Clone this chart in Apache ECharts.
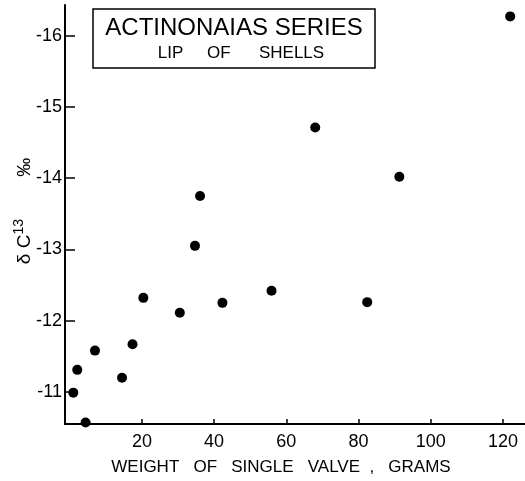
<!DOCTYPE html>
<html><head><meta charset="utf-8">
<script src="https://cdn.jsdelivr.net/npm/echarts@6/dist/echarts.min.js"></script>
<style>html,body{margin:0;padding:0;background:#fff}#c{width:525px;height:481px}</style>
</head><body><div id="c"></div>
<script>
const weights = [122, 68, 91.3, 36.1, 34.7, 20.4, 30.5, 42.3, 55.9, 82.4, 17.4, 7.0, 2.1, 14.5, 1.0, 4.4];
const delta13C = [-16.27, -14.71, -14.02, -13.75, -13.05, -12.32, -12.11, -12.25, -12.42, -12.26, -11.67, -11.58, -11.31, -11.20, -10.99, -10.57];
const xTicks = [20, 40, 60, 80, 100, 120];
const yTicks = [-16, -15, -14, -13, -12, -11];
const titleLine1 = 'ACTINONAIAS SERIES';
const titleLine2 = 'LIP     OF      SHELLS';
const xName = 'WEIGHT   OF   SINGLE   VALVE  ,   GRAMS';

const FONT = 'Liberation Sans';
const chart = echarts.init(document.getElementById('c'), null, {renderer: 'canvas'});
chart.setOption({
  animation: false,
  backgroundColor: '#fff',
  grid: {left: 65, right: 0, top: 5, bottom: 48, containLabel: false},
  xAxis: {
    type: 'value', min: -1.3, max: 126.1,
    axisLine: {show: true, onZero: false, lineStyle: {color: '#000', width: 2}},
    axisTick: {show: true, inside: true, length: 5, customValues: xTicks, lineStyle: {color: '#000', width: 1.5}},
    axisLabel: {customValues: xTicks, color: '#000', fontFamily: FONT, fontSize: 18, margin: 9},
    splitLine: {show: false},
    name: xName, nameLocation: 'middle', nameGap: 35,
    nameTextStyle: {color: '#000', fontFamily: FONT, fontSize: 17, padding: [0, 28, 0, 0]}
  },
  yAxis: {
    type: 'value', inverse: true, min: -16.43, max: -10.55,
    axisLine: {show: true, onZero: false, lineStyle: {color: '#000', width: 2}},
    axisTick: {show: true, inside: true, length: 10, customValues: yTicks, lineStyle: {color: '#000', width: 1.5}},
    axisLabel: {customValues: yTicks, color: '#000', fontFamily: FONT, fontSize: 18, margin: 3},
    splitLine: {show: false}
  },
  graphic: [
    {type: 'rect', shape: {x: 93, y: 9, width: 282, height: 59}, style: {fill: 'none', stroke: '#000', lineWidth: 1.5}},
    {type: 'text', x: 234, y: 28, style: {text: titleLine1, font: '24px "Liberation Sans"', fill: '#000', align: 'center', verticalAlign: 'middle'}},
    {type: 'text', x: 241, y: 53, style: {text: titleLine2, font: '17px "Liberation Sans"', fill: '#000', align: 'center', verticalAlign: 'middle'}},
    {type: 'text', x: 25, y: 211, rotation: Math.PI / 2,
      style: {text: '{a|δ }{b|C}{s|13}{g|        }{b|‰}', align: 'center', verticalAlign: 'middle',
        rich: {a: {font: '19px "Liberation Sans"', fill: '#000'}, b: {font: '19px "Liberation Sans"', fill: '#000'},
               s: {font: '14px "Liberation Sans"', fill: '#000', verticalAlign: 'top', padding: [0, 0, 12, 0]}, g: {font: '19px "Liberation Sans"'}}}}
  ],
  series: [{
    type: 'scatter', symbol: 'circle', symbolSize: 10,
    itemStyle: {color: '#000', opacity: 1},
    data: weights.map((w, i) => [w, delta13C[i]]),
    clip: true
  }]
});
</script></body></html>
